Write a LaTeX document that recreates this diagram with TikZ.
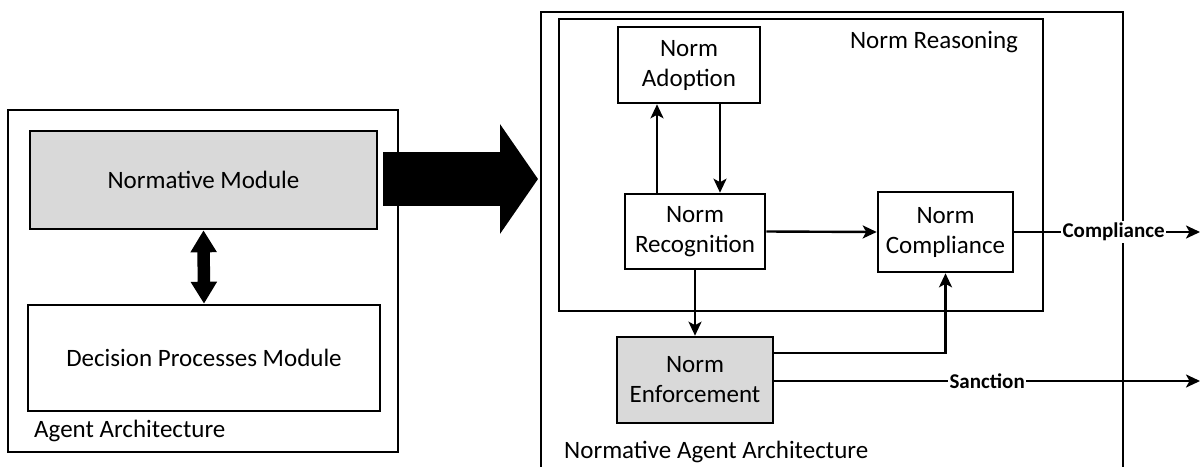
\documentclass[tikz,border=0pt]{standalone}
\usepackage{fontspec}
\setmainfont{Carlito}
\usetikzlibrary{arrows.meta}
\definecolor{boxgray}{RGB}{217,217,217}
\begin{document}
\begin{tikzpicture}[x=1pt,y=-1pt,
  box/.style={draw, line width=2.6pt, inner sep=0pt, align=center,
    font=\fontsize{25}{30}\selectfont},
  graybox/.style={box, fill=boxgray},
  frame/.style={draw, line width=2.4pt, inner sep=0pt},
  conn/.style={line width=2.4pt, -{Stealth[length=14pt,width=13pt,inset=3.5pt]}},
  flowlabel/.style={fill=white, inner sep=1.5pt,
    font=\bfseries\fontsize{21}{25}\selectfont},
  caption/.style={anchor=west, inner sep=0pt, font=\fontsize{25}{30}\selectfont}]
\useasboundingbox (0,0) rectangle (1201,466);

% ---- left: agent architecture ----
\node[frame, minimum width=390pt, minimum height=342pt] (agent) at (203,281) {};
\node[graybox, minimum width=347pt, minimum height=98pt] (nm) at (203.5,180) {Normative Module};
\node[box, minimum width=352pt, minimum height=106pt] (dpm) at (204,358) {Decision Processes Module};
\node[caption] (agentlbl) at (34,431) {Agent Architecture};
\draw[line width=12.5pt, {Triangle[length=22pt,width=25pt]}-{Triangle[length=22pt,width=25pt]}]
  (nm.south) -- (dpm.north);

% ---- big transition arrow ----
\coordinate (bigS) at (383,179);
\coordinate (bigE) at (538,179);
\draw[line width=54pt, -{Triangle[length=38pt,width=108pt]}] (bigS) -- (bigE);

% ---- right: normative agent architecture ----
\draw[line width=2.4pt] (541,470) -- (541,12) -- (1123,12) -- (1123,470);
\node[frame, minimum width=484pt, minimum height=292pt] (reason) at (801,165) {};
\node[anchor=center, inner sep=0pt, font=\fontsize{25}{30}\selectfont] (reasonlbl) at (934,42) {Norm Reasoning};
\node[box, minimum width=142pt, minimum height=76pt] (na) at (689,65) {Norm\\Adoption};
\node[box, minimum width=140pt, minimum height=75pt] (nrec) at (695,231.5) {Norm\\Recognition};
\node[box, minimum width=135pt, minimum height=80pt] (ncomp) at (945.5,232) {Norm\\Compliance};
\node[graybox, minimum width=156pt, minimum height=86pt] (nenf) at (695,380) {Norm\\Enforcement};
\node[caption] (nalbl) at (564,452) {Normative Agent Architecture};

% connectors
\draw[conn] ([xshift=-38pt]nrec.north) -- ([xshift=-32pt]na.south);
\draw[conn] ([xshift=31pt]na.south) -- ([xshift=25pt]nrec.north);
\draw[conn] (nrec.east) -- (ncomp.west);
\draw[conn] (nrec.south) -- (nenf.north);
\draw[conn] ([yshift=27pt]nenf.east) -| (ncomp.south);

\coordinate (compEnd) at (1200,232);
\coordinate (sancEnd) at (1200,381);
\draw[conn] (ncomp.east) -- (compEnd) node[flowlabel, pos=0.535] (complbl) {Compliance};
\draw[conn] ([yshift=-1pt]nenf.east) -- (sancEnd) node[flowlabel, pos=0.5] (sanclbl) {Sanction};
\end{tikzpicture}
\end{document}
